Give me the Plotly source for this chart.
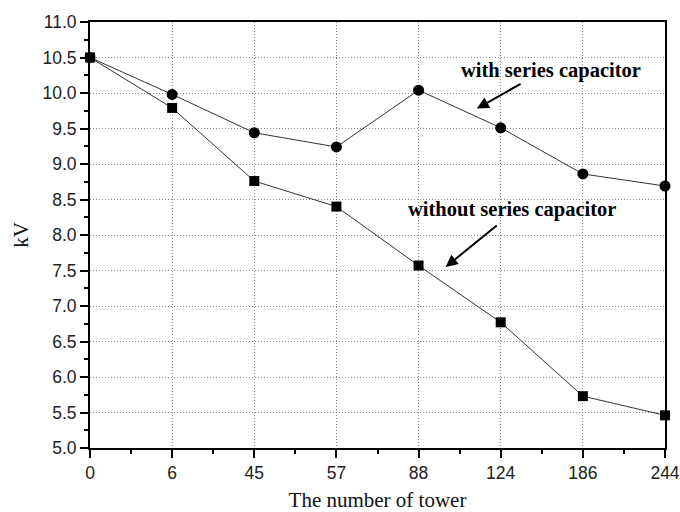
import plotly.graph_objects as go

towers = ["0", "6", "45", "57", "88", "124", "186", "244"]
with_cap = [10.50, 9.98, 9.44, 9.24, 10.04, 9.51, 8.86, 8.69]
without_cap = [10.50, 9.79, 8.76, 8.40, 7.57, 6.77, 5.73, 5.46]
y_ticks = [5.0, 5.5, 6.0, 6.5, 7.0, 7.5, 8.0, 8.5, 9.0, 9.5, 10.0, 10.5, 11.0]

xpos = list(range(len(towers)))

fig = go.Figure()
fig.add_trace(go.Scatter(
    x=xpos, y=with_cap, mode="lines+markers",
    line=dict(color="#333333", width=1),
    marker=dict(symbol="circle", size=11, color="black"),
    cliponaxis=False, showlegend=False))
fig.add_trace(go.Scatter(
    x=xpos, y=without_cap, mode="lines+markers",
    line=dict(color="#333333", width=1),
    marker=dict(symbol="square", size=10, color="black"),
    cliponaxis=False, showlegend=False))

serif = "Liberation Serif, Times New Roman, serif"
sans = "Liberation Sans, Arial, sans-serif"

fig.update_layout(
    width=680, height=512,
    margin=dict(l=90, r=15, t=22, b=64),
    paper_bgcolor="white", plot_bgcolor="white",
    xaxis=dict(
        range=[0, len(towers) - 1], automargin=False,
        tickvals=xpos, ticktext=towers,
        showline=True, linecolor="black", linewidth=2, mirror=True,
        ticks="outside", ticklen=8, tickwidth=1.5, tickcolor="black",
        minor=dict(dtick=0.5, tick0=0, ticks="outside", ticklen=4, tickwidth=1.5,
                   tickcolor="black", showgrid=False),
        showgrid=True, gridcolor="#8a8a8a", griddash="1px,2px", gridwidth=1,
        zeroline=False,
        tickfont=dict(family=sans, size=17.5, color="#222"),
        title=dict(text="The number of tower", font=dict(family=serif, size=21, color="#111"),
                   standoff=16),
    ),
    yaxis=dict(
        range=[5.0, 11.0], automargin=False,
        tickvals=y_ticks, ticktext=[f"{v:.1f}" for v in y_ticks],
        showline=True, linecolor="black", linewidth=2, mirror=True,
        ticks="outside", ticklen=8, tickwidth=1.5, tickcolor="black",
        minor=dict(dtick=0.25, tick0=5.0, ticks="outside", ticklen=4, tickwidth=1.5,
                   tickcolor="black", showgrid=False),
        showgrid=True, gridcolor="#8a8a8a", griddash="1px,2px", gridwidth=1,
        zeroline=False,
        tickfont=dict(family=sans, size=17.5, color="#222"),
        title=dict(text="kV", font=dict(family=serif, size=21, color="#111"), standoff=8),
    ),
    annotations=[
        dict(x=5.61, y=10.32, xref="x", yref="y", text="<b>with series capacitor</b>",
             showarrow=False, font=dict(family=serif, size=20.5, color="black")),
        dict(x=4.71, y=9.78, xref="x", yref="y", ax=5.26, ay=10.14,
             axref="x", ayref="y", text="", showarrow=True,
             arrowhead=2, arrowsize=1.2, arrowwidth=2, arrowcolor="black"),
        dict(x=5.14, y=8.36, xref="x", yref="y", text="<b>without series capacitor</b>",
             showarrow=False, font=dict(family=serif, size=20.5, color="black")),
        dict(x=4.33, y=7.55, xref="x", yref="y", ax=4.97, ay=8.15,
             axref="x", ayref="y", text="", showarrow=True,
             arrowhead=2, arrowsize=1.2, arrowwidth=2, arrowcolor="black"),
    ],
)

# remove the browser's default body margin so the 680x512 figure fills the window
fig.write_html("out.html",
               config={"displayModeBar": False},
               post_script="document.body.style.margin='0';"
                           "document.body.style.overflow='hidden';")
